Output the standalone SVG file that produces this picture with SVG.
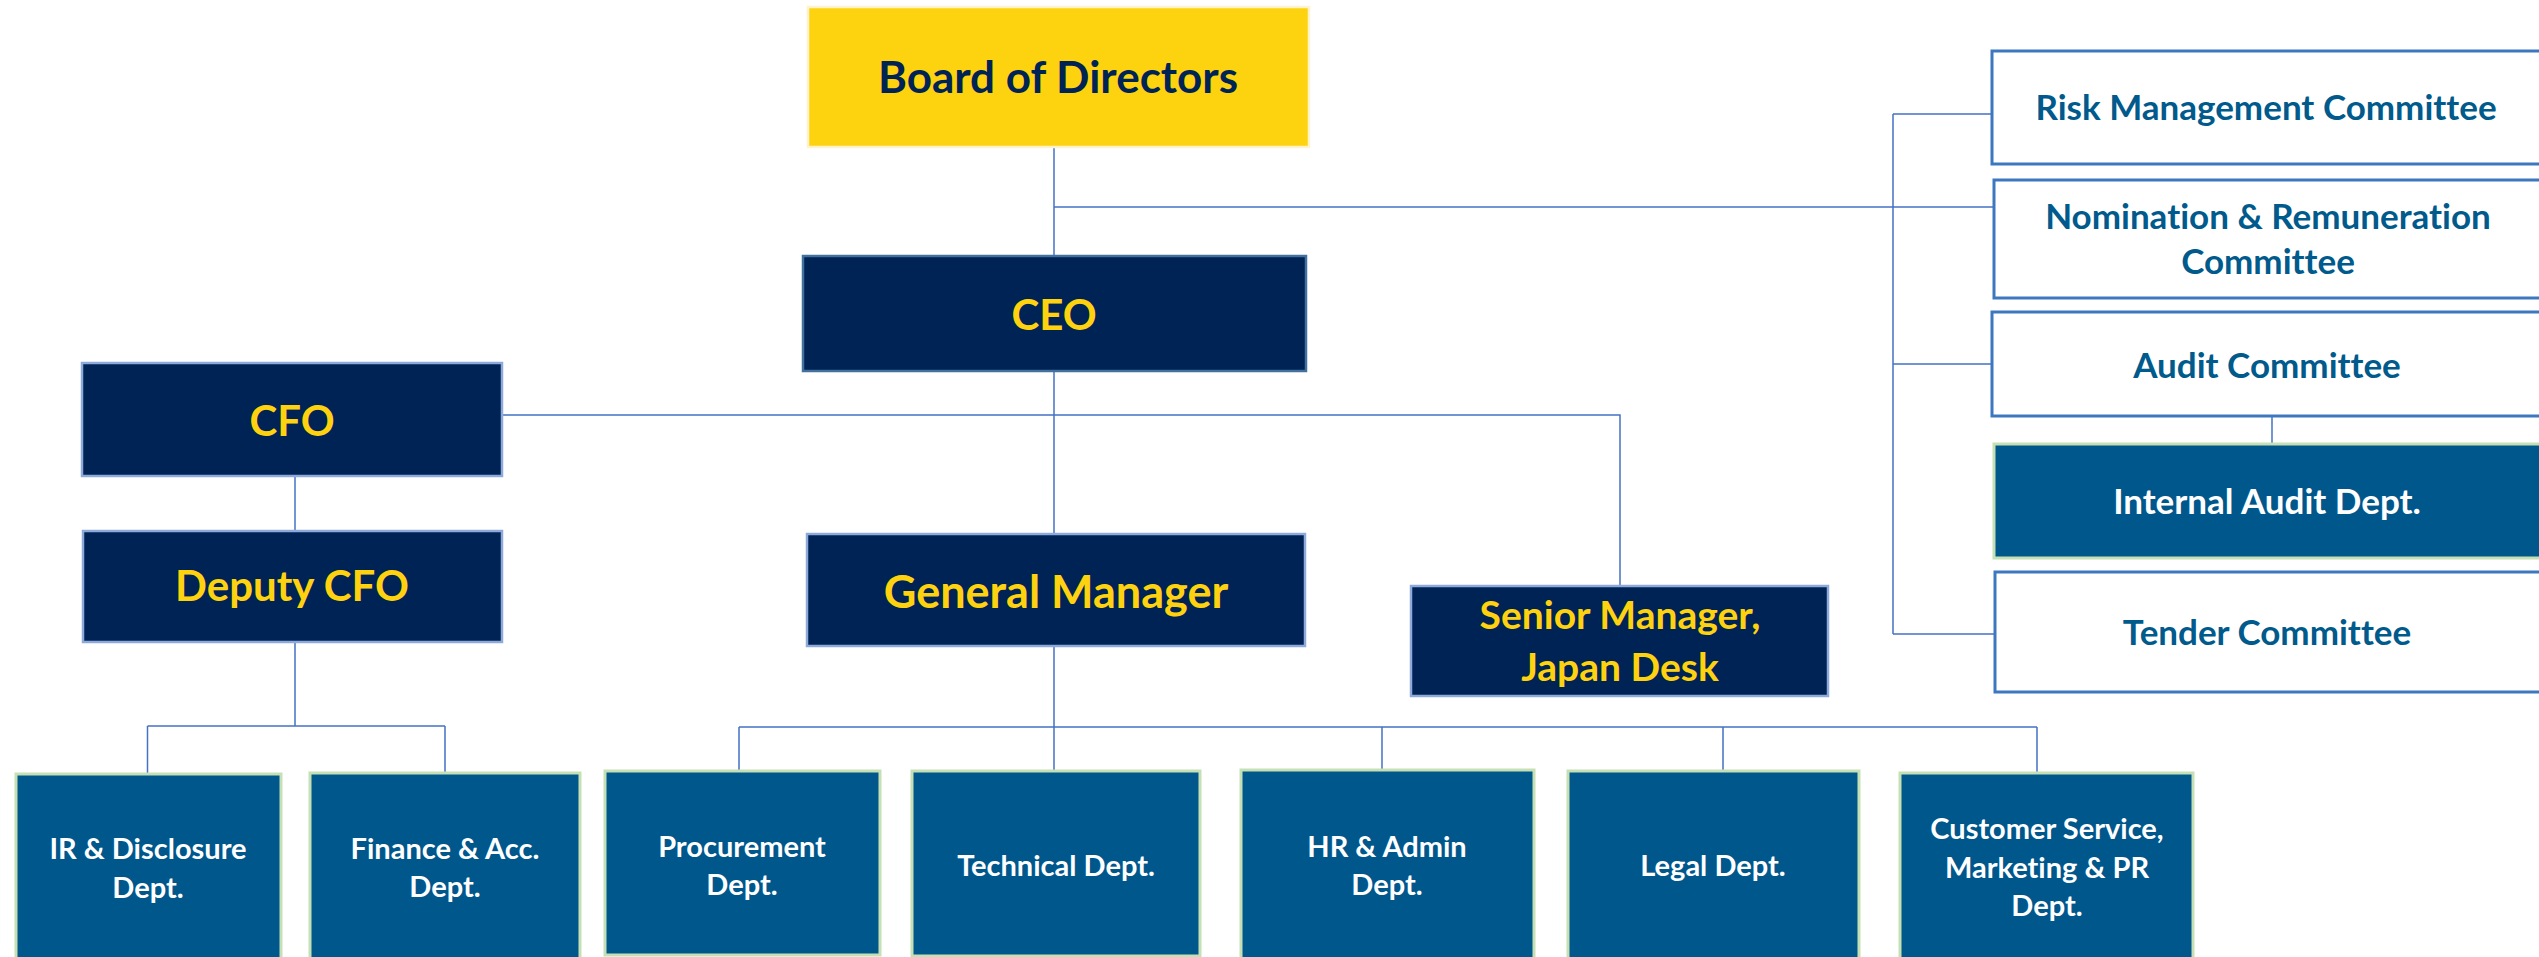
<svg xmlns="http://www.w3.org/2000/svg" width="2539" height="957" viewBox="0 0 2539 957">
<style>
text{font-family:Lato,"Open Sans","Liberation Sans",sans-serif;font-weight:bold;text-anchor:middle;font-variant-ligatures:none;font-feature-settings:"liga" 0,"dlig" 0}
.navy{fill:#002356;stroke:#8EAADB;stroke-width:2.5}
.ceo{fill:#002356;stroke:#41719C;stroke-width:2.5}
.dept{fill:#00578C;stroke:#C5E0B4;stroke-width:3}
.comm{fill:#FFFFFF;stroke:#3D77C0;stroke-width:3}
.yt{fill:#FFD20F}
.wt{fill:#FFFFFF;font-size:29px}
.bt{fill:#005A8C;font-size:35px}
.ct{fill:#FFFFFF;font-size:35px}
.conn{stroke:#4472C4;stroke-width:1.5;fill:none}
</style>
<rect width="2539" height="957" fill="#FFFFFF"/>
<g id="connectors" class="conn">
<path d="M1054,147 V256"/>
<path d="M1054,207 H1994"/>
<path d="M1893,114 V634 M1893,114 H1992 M1893,364 H1992 M1893,634 H1995"/>
<path d="M2272,416 V444"/>
<path d="M1054,371 V534"/>
<path d="M502,415 H1620 V586"/>
<path d="M295,476 V531"/>
<path d="M295,642 V726 M147.5,726 H445 M147.5,726 V774 M445,726 V773"/>
<path d="M1054,646 V771 M739,727 H2037 M739,727 V771 M1382,727 V770 M1723,727 V771 M2037,727 V773"/>
</g>
<g id="board">
<rect x="808" y="7" width="501" height="140" fill="#FDD20F" stroke="#FFF2CC" stroke-width="2.5"/>
<text x="1058" y="93" font-size="44" fill="#002356">Board of Directors</text>
</g>
<g id="ceo">
<rect class="ceo" x="803" y="256" width="503" height="115"/>
<text class="yt" x="1054" y="330" font-size="42">CEO</text>
</g>
<g id="cfo">
<rect class="navy" x="82" y="363" width="420" height="113"/>
<text class="yt" x="292" y="436" font-size="42">CFO</text>
</g>
<g id="deputy-cfo">
<rect class="navy" x="83" y="531" width="419" height="111"/>
<text class="yt" x="292" y="601" font-size="42">Deputy CFO</text>
</g>
<g id="general-manager">
<rect class="navy" x="807" y="534" width="498" height="112"/>
<text class="yt" x="1056" y="608" font-size="45">General Manager</text>
</g>
<g id="senior-manager">
<rect class="navy" x="1411" y="586" width="417" height="110"/>
<text class="yt" x="1620" y="629" font-size="39">Senior Manager,</text>
<text class="yt" x="1620" y="681" font-size="39">Japan Desk</text>
</g>
<g id="risk-committee">
<rect class="comm" x="1992" y="51" width="560" height="113"/>
<text class="bt" x="2266" y="120">Risk Management Committee</text>
</g>
<g id="nomination-committee">
<rect class="comm" x="1994" y="180" width="560" height="118"/>
<text class="bt" x="2268" y="229">Nomination &amp; Remuneration</text>
<text class="bt" x="2268" y="274">Committee</text>
</g>
<g id="audit-committee">
<rect class="comm" x="1992" y="312" width="560" height="104"/>
<text class="bt" x="2267" y="378">Audit Committee</text>
</g>
<g id="internal-audit">
<rect class="dept" x="1994" y="444" width="560" height="114"/>
<text class="ct" x="2267" y="514">Internal Audit Dept.</text>
</g>
<g id="tender-committee">
<rect class="comm" x="1995" y="572" width="560" height="120"/>
<text class="bt" x="2267" y="645">Tender Committee</text>
</g>
<g id="ir-dept">
<rect class="dept" x="16" y="774" width="265" height="200"/>
<text class="wt" x="148" y="859">IR &amp; Disclosure</text>
<text class="wt" x="148" y="898">Dept.</text>
</g>
<g id="finance-dept">
<rect class="dept" x="310" y="773" width="270" height="200"/>
<text class="wt" x="445" y="859">Finance &amp; Acc.</text>
<text class="wt" x="445" y="897">Dept.</text>
</g>
<g id="procurement-dept">
<rect class="dept" x="605" y="771" width="275" height="184"/>
<text class="wt" x="742" y="857">Procurement</text>
<text class="wt" x="742" y="895">Dept.</text>
</g>
<g id="technical-dept">
<rect class="dept" x="912" y="771" width="288" height="185"/>
<text class="wt" x="1056" y="876">Technical Dept.</text>
</g>
<g id="hr-dept">
<rect class="dept" x="1241" y="770" width="293" height="200"/>
<text class="wt" x="1387" y="857">HR &amp; Admin</text>
<text class="wt" x="1387" y="895">Dept.</text>
</g>
<g id="legal-dept">
<rect class="dept" x="1568" y="771" width="291" height="200"/>
<text class="wt" x="1713" y="876">Legal Dept.</text>
</g>
<g id="customer-dept">
<rect class="dept" x="1900" y="773" width="293" height="200"/>
<text class="wt" x="2047" y="839">Customer Service,</text>
<text class="wt" x="2047" y="878">Marketing &amp; PR</text>
<text class="wt" x="2047" y="916">Dept.</text>
</g>
</svg>
